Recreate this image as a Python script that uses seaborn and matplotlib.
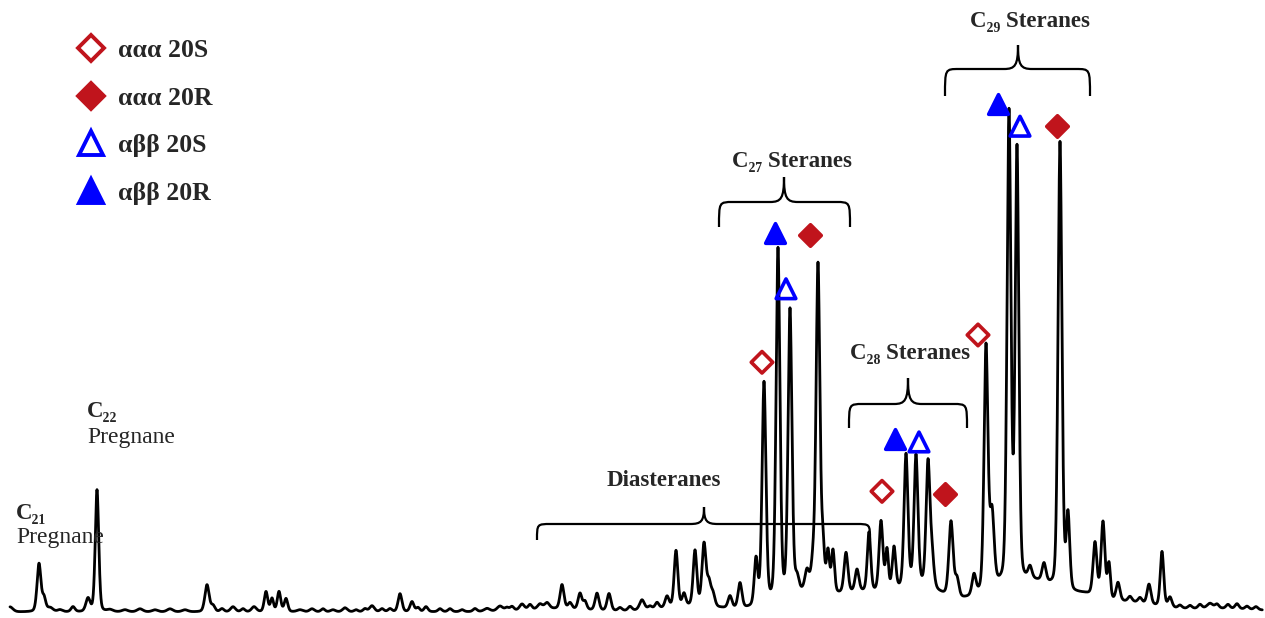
import numpy as np
import pandas as pd
import matplotlib
matplotlib.use("Agg")
import matplotlib.pyplot as plt
from matplotlib.path import Path
from matplotlib.patches import PathPatch
from matplotlib.lines import Line2D
import seaborn as sns

sns.set_theme(style="white")
plt.rcParams["font.family"] = ["Liberation Serif", "DejaVu Serif"]

# m/z 217 trace: peak table (retention position, height, width)
peak_rt = [10, 39, 44, 50, 60, 73, 88, 97, 110, 125, 140, 155, 170, 185, 207, 213, 222,
           233, 243, 254, 266, 272, 279, 286, 300, 312, 323, 333, 345, 356, 365, 372,
           382, 390, 400, 412, 418, 426, 440, 450, 462, 475, 487, 500, 507, 512, 522, 530,
           540, 547, 562, 570, 580, 585, 597, 609, 620, 630, 642, 650, 657, 667, 676, 684,
           695, 704, 709, 713, 730, 740, 756,
           764, 778, 790, 797, 807, 813, 818, 823, 828, 833, 846, 857, 869,
           881, 887, 894, 906, 916, 928, 932, 951, 957, 974,
           986, 992, 1009, 1017, 1030, 1044, 1060, 1068, 1095, 1103, 1109, 1118, 1130,
           1140, 1149, 1162, 1170, 1180, 1190, 1200, 1210, 1217, 1228, 1237, 1247, 1256,
           # unresolved hump under the sterane envelope
           555, 690, 800, 860, 920, 1000, 1040, 1085, 1130, 1220]
peak_height = [5, 48, 13, 4, 2, 5, 13, 122, 2, 2, 3, 2, 3, 2, 27, 6, 3,
               5, 3, 5, 20, 13, 20, 13, 2, 3, 3, 2, 4, 2, 3, 6,
               3, 3, 18, 10, 4, 5, 3, 3, 2, 3, 3, 5, 3, 4, 6, 5,
               5, 6, 24, 6, 16, 8, 17, 17, 3, 4, 10, 3, 6, 11, 56, 12,
               55, 62, 22, 12, 12, 25, 46,
               221, 350, 285, 14, 20, 26, 328, 42, 40, 42, 40, 22, 59,
               70, 40, 42, 132, 129, 123, 30, 75, 18, 20,
               243, 72, 468, 430, 12, 18, 448, 75, 53, 76, 35, 18, 5,
               5, 20, 55, 10, 3, 3, 4, 5, 4, 4, 5, 3, 3,
               3, 5, 14, 16, 22, 20, 22, 12, 8, 3]
peak_width = [3, 2.0, 1.8, 3, 2.5, 2, 2.2, 1.8, 3, 3, 3, 3, 3, 3, 2.2, 2, 2,
              2.5, 2, 2.5, 1.8, 1.6, 1.8, 1.8, 3, 2.5, 2, 2.5, 2.5, 2, 2, 2.5,
              2, 2, 2, 2, 1.8, 2, 2, 2, 2, 2, 3, 3, 2, 2, 2.5, 2,
              2.5, 2.5, 2.0, 2, 2, 1.8, 2, 2, 2, 2, 2.5, 2, 2, 2, 1.9, 1.8,
              1.9, 2.1, 2, 2, 2, 2.0, 1.8,
              2.0, 2.0, 2.0, 2, 2.2, 2, 2.0, 1.6, 1.6, 1.6, 2, 2, 1.8,
              2.0, 1.5, 1.8, 2.0, 2.0, 2.0, 2, 2.2, 2, 2,
              2.0, 2.2, 2.0, 1.9, 2, 2, 2.0, 1.8, 2, 2, 1.5, 2, 2,
              2, 2, 1.8, 2, 2, 2, 2, 3, 2, 2, 2, 2, 2,
              30, 30, 25, 30, 25, 25, 22, 18, 25, 40]
# share of Lorentzian tail in each peak profile
tail_share = 0.3

# labelled sterane peaks
isomer_rt = [764, 778, 790, 818, 881, 906, 916, 951, 986, 1009, 1017, 1060]
isomer = ["ααα 20S", "αββ 20R", "αββ 20S", "ααα 20R",
          "ααα 20S", "αββ 20R", "αββ 20S", "ααα 20R",
          "ααα 20S", "αββ 20R", "αββ 20S", "ααα 20R"]
legend_order = ["ααα 20S", "ααα 20R", "αββ 20S", "αββ 20R"]

RED = "#C0141C"
BLUE = "#0000FF"
marker_style = {
    "ααα 20S": dict(marker="D", fc="none", ec=RED),
    "ααα 20R": dict(marker="D", fc=RED, ec=RED),
    "αββ 20S": dict(marker="^", fc="none", ec=BLUE),
    "αββ 20R": dict(marker="^", fc=BLUE, ec=BLUE),
}
# marker placement relative to each labelled apex
marker_dx = [-2, -3, -4, -8, 1, -11, 3, -6, -8, -11, 3, -3]
marker_dy = [19, 14, 19, 27, 29, 14, 12, 27, 8, 4, 18, 15]

# ---- build the trace ----
rt = np.arange(10, 1262.5, 0.25)
signal = np.zeros_like(rt)
for c, h, w in zip(peak_rt, peak_height, peak_width):
    d = (rt - c) / w
    signal += h * ((1 - tail_share) * np.exp(-0.5 * d ** 2) + tail_share / (1 + d ** 2))
trace = pd.DataFrame({"rt": rt, "intensity": signal})

fig = plt.figure(figsize=(12.65, 6.18), dpi=100)
ax = fig.add_axes([0, 0, 1, 1])
sns.lineplot(data=trace, x="rt", y="intensity", color="black", lw=2.0,
             estimator=None, ax=ax)

# isomer markers
apex = np.interp(isomer_rt, rt, signal)
marks = pd.DataFrame({"x": np.array(isomer_rt) + np.array(marker_dx),
                      "y": apex + np.array(marker_dy), "isomer": isomer})
for name, grp in marks.groupby("isomer"):
    st = marker_style[name]
    size = 120 if st["marker"] == "D" else 200
    sns.scatterplot(data=grp, x="x", y="y", marker=st["marker"], s=size,
                    facecolor=st["fc"], edgecolor=st["ec"], linewidth=2.6,
                    ax=ax, legend=False, zorder=3)

handles = []
for name in legend_order:
    st = marker_style[name]
    handles.append(Line2D([], [], ls="none", marker=st["marker"],
                          markersize=13 if st["marker"] == "D" else 17,
                          markerfacecolor=st["fc"], markeredgecolor=st["ec"],
                          markeredgewidth=2.8))
ax.legend(handles, legend_order, loc="upper left", bbox_to_anchor=(0.052, 0.957),
          frameon=False, borderpad=0, handlelength=1.0, handletextpad=0.55,
          labelspacing=0.95, prop=dict(family="Liberation Serif", weight="bold", size=18.5))


def brace(x0, x1, xm, yl, depth, rise, r=14):
    yb, yt = yl - depth, yl + rise
    verts = [(x0, yb), (x0, yl), (x0, yl), (x0 + r, yl),
             (xm - r, yl),
             (xm - r * 0.2, yl), (xm, yl + rise * 0.15), (xm, yt),
             (xm, yl + rise * 0.15), (xm + r * 0.2, yl), (xm + r, yl),
             (x1 - r, yl),
             (x1, yl), (x1, yl), (x1, yb)]
    codes = [Path.MOVETO, Path.CURVE4, Path.CURVE4, Path.CURVE4,
             Path.LINETO,
             Path.CURVE4, Path.CURVE4, Path.CURVE4,
             Path.CURVE4, Path.CURVE4, Path.CURVE4,
             Path.LINETO,
             Path.CURVE4, Path.CURVE4, Path.CURVE4]
    ax.add_patch(PathPatch(Path(verts, codes), fc="none", ec="black", lw=1.6))


brace(537, 870, 704, 88, 16, 17)
brace(719, 850, 784, 410, 25, 25)
brace(849, 967, 908, 208, 24, 26)
brace(945, 1090, 1018, 543, 27, 24)

bold = dict(fontweight="bold", fontsize=16.5, ha="center", va="center")
ax.text(664, 132, "Diasteranes", **bold)
ax.text(792, 451, "C₂₇ Steranes", **bold)
ax.text(910, 259, "C₂₈ Steranes", **bold)
ax.text(1030, 591, "C₂₉ Steranes", **bold)

ax.text(16, 99, "C₂₁", fontweight="bold", fontsize=16.5, ha="left", va="center")
ax.text(16, 74, "Pregnane", fontsize=17, ha="left", va="center")
ax.text(87, 201, "C₂₂", fontweight="bold", fontsize=16.5, ha="left", va="center")
ax.text(87, 175, "Pregnane", fontsize=17, ha="left", va="center")

ax.set_xlim(0, 1265)
ax.set_ylim(-6, 612)
ax.axis("off")
fig.savefig("out.png", dpi=100)
